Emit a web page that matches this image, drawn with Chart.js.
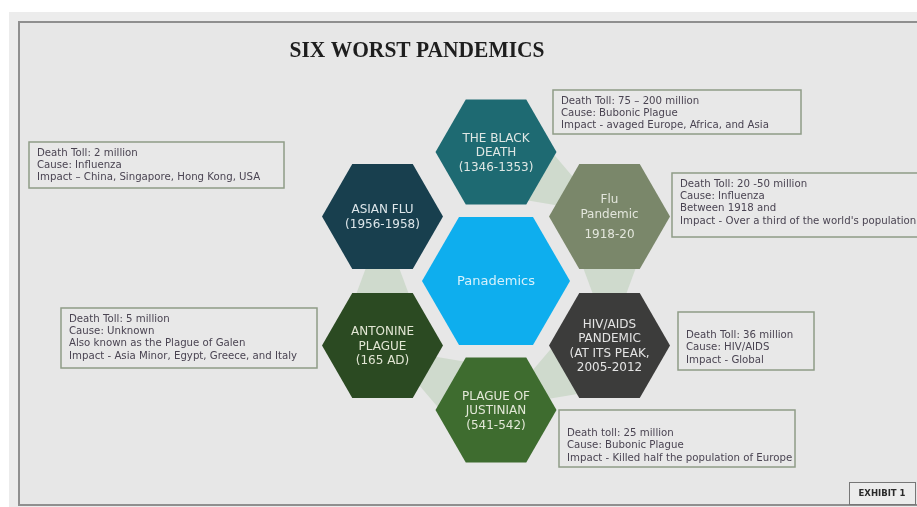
<!DOCTYPE html>
<html>
<head>
<meta charset="utf-8">
<script src="https://cdn.jsdelivr.net/npm/chart.js@4.4.0/dist/chart.umd.min.js"></script>
<style>
  html, body { margin: 0; padding: 0; background: #fff; }
  canvas { display: block; }
</style>
</head>
<body>
<canvas id="hexChart" width="917" height="507"></canvas>
<script>
// ---- data ----
const chartTitle = 'SIX WORST PANDEMICS';
const hexNames = [
  ['Panademics'],
  ['THE BLACK', 'DEATH', '(1346-1353)'],
  ['Flu', 'Pandemic', '', '1918-20'],
  ['HIV/AIDS', 'PANDEMIC', '(AT ITS PEAK,', '2005-2012'],
  ['PLAGUE OF', 'JUSTINIAN', '(541-542)'],
  ['ANTONINE', 'PLAGUE', '(165 AD)'],
  ['ASIAN FLU', '(1956-1958)'],
];
// hex grid position (column, row) around the centre cell
const hexX = [0, 0, 1, 1, 0, -1, -1];
const hexY = [0, 2, 1, -1, -2, -1, 1];
const deathToll = [null, 'Death Toll: 75 – 200 million', 'Death Toll: 20 -50 million', 'Death Toll: 36 million',
  'Death toll: 25 million', 'Death Toll: 5 million', 'Death Toll: 2 million'];
const cause = [null, 'Cause: Bubonic Plague', 'Cause: Influenza', 'Cause: HIV/AIDS',
  'Cause: Bubonic Plague', 'Cause: Unknown', 'Cause: Influenza'];
const extraNote = [null, null, 'Between 1918 and', null, null, 'Also known as the Plague of Galen', null];
const impact = [null, 'Impact - avaged Europe, Africa, and Asia', "Impact - Over a third of the world's population",
  'Impact - Global', 'Impact - Killed half the population of Europe',
  'Impact - Asia Minor, Egypt, Greece, and Italy', 'Impact – China, Singapore, Hong Kong, USA'];
// ring order for the pale connector arrows (from -> to)
const links = [[1, 2], [2, 3], [3, 4], [4, 5], [5, 6]];

// ---- styles / layout ----
const HEX_COLORS = ['#0eaeee', '#1e6a72', '#7a876a', '#3c3c3b', '#3e6c2f', '#2b4a22', '#183f4e'];
const HEX_TEXT = ['#d6f1fc', '#dfe7e4', '#e3e6dc', '#e4e4e4', '#e3e8d8', '#e2e6d4', '#dde6ea'];
const R_OUTER = 0.533, R_CENTER = 0.652;   // in x-axis units
// note boxes: left, top, width, height, blank lines before text
const BOXES = [null,
  [553, 90, 248, 44, 0],
  [672, 173, 260, 64, 0],
  [678, 312, 136, 58, 1],
  [559, 410, 236, 57, 1],
  [61, 308, 256, 60, 0],
  [29, 142, 255, 46, 0],
];

function hexPath(ctx, cx, cy, r) {
  const h = r * Math.sqrt(3) / 2;
  ctx.beginPath();
  ctx.moveTo(cx - r, cy);
  ctx.lineTo(cx - r / 2, cy - h);
  ctx.lineTo(cx + r / 2, cy - h);
  ctx.lineTo(cx + r, cy);
  ctx.lineTo(cx + r / 2, cy + h);
  ctx.lineTo(cx - r / 2, cy + h);
  ctx.closePath();
}

const hexPlugin = {
  id: 'hexPlugin',
  beforeDraw(chart) {
    const ctx = chart.ctx;
    ctx.save();
    ctx.fillStyle = '#fff';
    ctx.fillRect(0, 0, chart.width, chart.height);
    ctx.fillStyle = '#ececec';
    ctx.fillRect(9, 12, chart.width, chart.height);
    ctx.fillStyle = '#e7e7e7';
    ctx.fillRect(19, 22, chart.width, 483);
    ctx.strokeStyle = '#8f8f8f';
    ctx.lineWidth = 2;
    ctx.strokeRect(19, 22, chart.width + 10, 483);

    // title
    ctx.fillStyle = '#1e1e1e';
    ctx.font = 'bold 23px "Liberation Serif"';
    ctx.textAlign = 'center';
    ctx.textBaseline = 'alphabetic';
    const w = ctx.measureText(chartTitle).width;
    ctx.translate(417, 57);
    ctx.scale(255 / w, 1);
    ctx.fillText(chartTitle, 0, 0);
    ctx.restore();
  },
  beforeDatasetsDraw(chart) {
    const ctx = chart.ctx;
    const pts = chart.getDatasetMeta(0).data;
    ctx.save();
    ctx.fillStyle = '#cfdacd';
    links.forEach(([a, b]) => {
      const A = pts[a], B = pts[b];
      const dx = B.x - A.x, dy = B.y - A.y;
      const d = Math.hypot(dx, dy);
      const nx = -dy / d, ny = dx / d;
      const hw = 31;
      const bx = A.x + dx * 0.3, by = A.y + dy * 0.3;
      ctx.beginPath();
      ctx.moveTo(bx + nx * hw, by + ny * hw);
      ctx.lineTo(bx - nx * hw, by - ny * hw);
      ctx.lineTo(A.x + dx * 0.95, A.y + dy * 0.95);
      ctx.closePath();
      ctx.fill();
    });
    ctx.restore();
  },
  afterDatasetsDraw(chart) {
    const ctx = chart.ctx;
    const xs = chart.scales.x;
    const unit = xs.getPixelForValue(1) - xs.getPixelForValue(0);
    const pts = chart.getDatasetMeta(0).data;
    ctx.save();
    pts.forEach((p, i) => {
      const r = (i === 0 ? R_CENTER : R_OUTER) * unit;
      hexPath(ctx, p.x, p.y, r);
      ctx.fillStyle = HEX_COLORS[i];
      ctx.fill();

      const lines = hexNames[i];
      const lh = 14.5;
      const heights = lines.map(l => l === '' ? lh * 0.4 : lh);
      const total = heights.reduce((s, v) => s + v, 0) - lh;
      let y = p.y - total / 2 + 1;
      ctx.fillStyle = HEX_TEXT[i];
      ctx.font = (i === 0 ? '13px' : '12px') + ' "DejaVu Sans"';
      ctx.textAlign = 'center';
      ctx.textBaseline = 'middle';
      lines.forEach((l, k) => {
        if (l !== '') ctx.fillText(l, p.x, y);
        y += heights[k];
      });
    });

    // note boxes
    for (let i = 1; i < pts.length; i++) {
      const [l, t, bw, bh, lead] = BOXES[i];
      ctx.fillStyle = '#e8e8e8';
      ctx.fillRect(l, t, bw, bh);
      ctx.strokeStyle = '#8f9c87';
      ctx.lineWidth = 1.5;
      ctx.strokeRect(l, t, bw, bh);
      const text = [deathToll[i], cause[i], extraNote[i], impact[i]].filter(s => s);
      ctx.fillStyle = '#4a4452';
      ctx.font = '10.2px "DejaVu Sans"';
      ctx.textAlign = 'left';
      ctx.textBaseline = 'middle';
      text.forEach((s, k) => ctx.fillText(s, l + 8, t + 11 + (k + lead) * 12.3));
    }

    // exhibit tag
    ctx.fillStyle = '#ececec';
    ctx.fillRect(849, 482, 66, 22);
    ctx.strokeStyle = '#777';
    ctx.lineWidth = 1;
    ctx.strokeRect(849.5, 482.5, 66, 22);
    ctx.fillStyle = '#2a2a2a';
    ctx.font = 'bold 8.5px "DejaVu Sans"';
    ctx.textAlign = 'center';
    ctx.fillText('EXHIBIT 1', 882, 494);
    ctx.restore();
  }
};

new Chart(document.getElementById('hexChart'), {
  type: 'scatter',
  data: {
    datasets: [{
      label: 'Pandemics',
      data: hexX.map((x, i) => ({ x, y: hexY[i] })),
      pointRadius: 0,
      pointHoverRadius: 0,
    }],
  },
  options: {
    responsive: false,
    animation: false,
    devicePixelRatio: 1,
    layout: { padding: 0 },
    plugins: { legend: { display: false }, tooltip: { enabled: false }, title: { display: false } },
    scales: {
      x: { type: 'linear', display: false, min: -4.370, max: 3.709 },
      y: { type: 'linear', display: false, min: -3.504, max: 4.357 },
    },
  },
  plugins: [hexPlugin],
});
</script>
</body>
</html>
